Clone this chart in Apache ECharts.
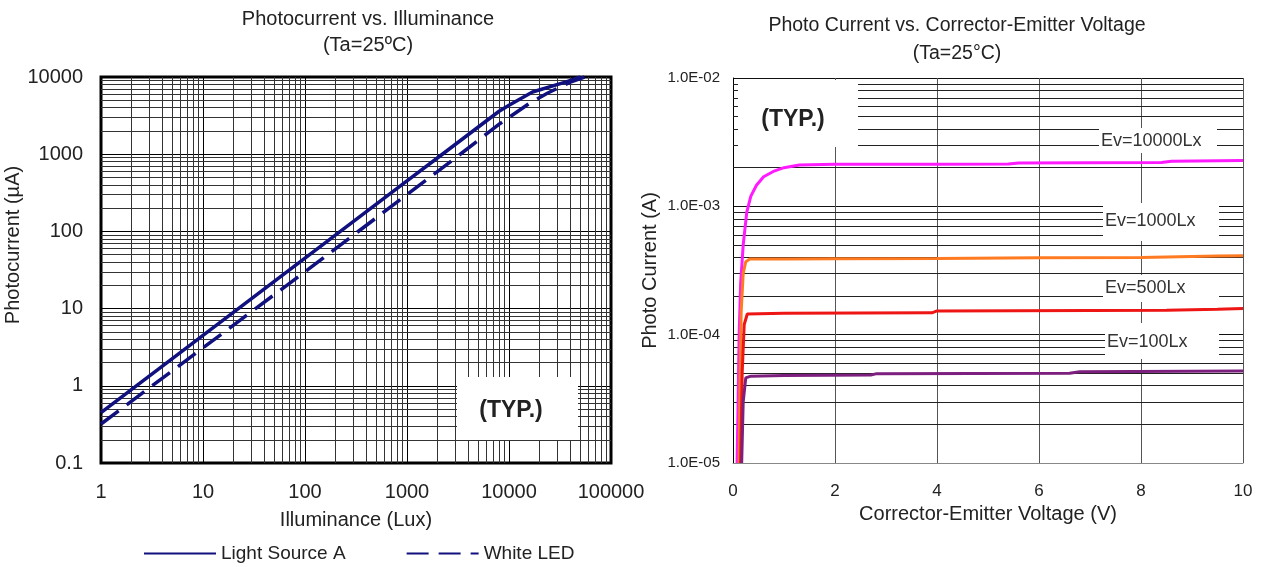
<!DOCTYPE html>
<html>
<head>
<meta charset="utf-8">
<script src="https://cdn.jsdelivr.net/npm/echarts@6.0.0/dist/echarts.min.js"></script>
<style>
html,body{margin:0;padding:0;background:#fff;}
#chart{width:1263px;height:567px;}
</style>
</head>
<body>
<div id="chart"></div>
<script>
// ---------- Left chart data: Photocurrent (µA) vs Illuminance (Lux) ----------
const luxA = [1, 10, 100, 1000, 2000, 5000, 8000, 10000, 17000, 37000, 50000];
const lightSourceA = [0.45, 4.5, 45, 450, 900, 2250, 3600, 4300, 6400, 8700, 10000];
const luxLED = [1, 10, 100, 1000, 3000, 8200, 16000, 24000, 40000, 55000];
const whiteLED = [0.32, 3.1, 30, 300, 900, 2500, 4600, 6200, 8600, 10000];
const leftXTickLabels = ['1', '10', '100', '1000', '10000', '100000'];
const leftYTickLabels = ['0.1', '1', '10', '100', '1000', '10000'];
const leftXDecades = [1, 10, 100, 1000, 10000];
const leftYDecades = [0.1, 1, 10, 100, 1000];
const minorSteps = [2, 3, 4, 5, 6, 7, 8, 9];

// ---------- Right chart data: Photo current (A) vs C-E Voltage (V) ----------
const ev10000V = [0.08, 0.1, 0.12, 0.15, 0.2, 0.27, 0.35, 0.46, 0.6, 0.79, 1.0, 1.3, 2, 4, 5.4, 5.6, 8.4, 8.6, 10];
const ev10000I = [1e-5, 3e-5, 1e-4, 2.5e-4, 5e-4, 9e-4, 1.2e-3, 1.46e-3, 1.7e-3, 1.87e-3, 2.0e-3, 2.1e-3, 2.13e-3, 2.13e-3, 2.14e-3, 2.18e-3, 2.2e-3, 2.25e-3, 2.28e-3];
const ev1000V = [0.12, 0.14, 0.16, 0.2, 0.25, 0.33, 1, 2, 4, 6, 8, 9.5, 10];
const ev1000I = [1e-5, 5e-5, 1.5e-4, 3e-4, 3.7e-4, 3.88e-4, 3.88e-4, 3.9e-4, 3.92e-4, 3.97e-4, 4.0e-4, 4.1e-4, 4.12e-4];
const ev500V = [0.15, 0.18, 0.22, 0.28, 1, 3.9, 4.0, 8.5, 9.5, 10];
const ev500I = [1e-5, 5e-5, 1.2e-4, 1.45e-4, 1.47e-4, 1.48e-4, 1.53e-4, 1.55e-4, 1.58e-4, 1.6e-4];
const ev100V = [0.17, 0.2, 0.25, 0.35, 1, 2.7, 2.8, 6.6, 6.8, 10];
const ev100I = [1e-5, 3e-5, 4.6e-5, 4.75e-5, 4.8e-5, 4.85e-5, 4.95e-5, 5.0e-5, 5.15e-5, 5.2e-5];
const rightYTickLabels = ['1.0E-05', '1.0E-04', '1.0E-03', '1.0E-02'];
const rightYDecades = [1e-5, 1e-4, 1e-3];

const zip = (a, b) => a.map((v, i) => [v, b[i]]);
const minorOf = decades => decades.flatMap(d => minorSteps.map(s => +(d * s).toPrecision(6)));

const FONT = "'Liberation Sans', Arial, sans-serif";
const TXT = '#222';
const NAVY = '#10107f';
const NOSYM = 'rgba(0,0,0,0)';

const chart = echarts.init(document.getElementById('chart'), null, {renderer: 'canvas'});

const option = {
  animation: false,
  backgroundColor: '#ffffff',
  textStyle: {fontFamily: FONT, color: TXT},
  title: [
    {text: 'Photocurrent vs. Illuminance\n(Ta=25ºC)', left: 368, top: 6, textAlign: 'center', padding: 0,
     textStyle: {fontSize: 20, fontWeight: 'normal', lineHeight: 26, color: TXT, fontFamily: FONT}},
    {text: 'Photo Current vs. Corrector-Emitter Voltage\n(Ta=25°C)', left: 957, top: 12, textAlign: 'center', padding: 0,
     textStyle: {fontSize: 19.5, fontWeight: 'normal', lineHeight: 28, color: TXT, fontFamily: FONT}}
  ],
  legend: {
    left: 138, top: 539, itemWidth: 72, itemHeight: 14, itemGap: 60,
    selectedMode: false, data: ['Light Source A', 'White LED'],
    itemStyle: {opacity: 0},
    textStyle: {fontSize: 19, color: TXT, fontFamily: FONT}
  },
  grid: [
    {left: 101, top: 77, width: 510, height: 386, show: true, borderColor: '#000', borderWidth: 3,
     backgroundColor: 'transparent', outerBoundsMode: 'none', containLabel: false},
    {left: 733, top: 78, width: 510, height: 385, show: false, outerBoundsMode: 'none', containLabel: false}
  ],
  xAxis: [
    {type: 'log', logBase: 10, gridIndex: 0, min: 1, max: 100000,
     axisLine: {show: false}, axisTick: {show: false},
     axisLabel: {fontSize: 20, color: TXT, margin: 19, fontFamily: FONT,
       formatter: v => leftXTickLabels[Math.round(Math.log10(v))]},
     splitLine: {show: true, lineStyle: {color: '#000', width: 1}},
     name: 'Illuminance (Lux)', nameLocation: 'middle', nameGap: 47,
     nameTextStyle: {fontSize: 20, color: TXT, fontFamily: FONT}},
    {type: 'value', gridIndex: 1, min: 0, max: 10, interval: 2,
     axisLine: {show: true, lineStyle: {color: '#888', width: 1}}, axisTick: {show: false},
     axisLabel: {fontSize: 17, color: TXT, margin: 20, fontFamily: FONT},
     splitLine: {show: true, lineStyle: {color: '#555', width: 1}},
     name: 'Corrector-Emitter Voltage (V)', nameLocation: 'middle', nameGap: 39,
     nameTextStyle: {fontSize: 20, color: TXT, fontFamily: FONT}}
  ],
  yAxis: [
    {type: 'log', logBase: 10, gridIndex: 0, min: 0.1, max: 10000,
     axisLine: {show: false}, axisTick: {show: false},
     axisLabel: {fontSize: 20, color: TXT, margin: 18, fontFamily: FONT,
       formatter: v => leftYTickLabels[Math.round(Math.log10(v)) + 1]},
     splitLine: {show: true, lineStyle: {color: '#000', width: 1}},
     name: 'Photocurrent (µA)', nameLocation: 'middle', nameGap: 64, nameRotate: 90,
     nameTextStyle: {fontSize: 20, color: TXT, fontFamily: FONT, padding: [0, 0, 0, 50]}},
    {type: 'log', logBase: 10, gridIndex: 1, min: 1e-5, max: 1e-2,
     axisLine: {show: true, lineStyle: {color: '#000', width: 1}}, axisTick: {show: false},
     axisLabel: {fontSize: 15, color: TXT, margin: 13, fontFamily: FONT,
       formatter: v => rightYTickLabels[Math.round(Math.log10(v)) + 5]},
     splitLine: {show: true, lineStyle: {color: '#111', width: 1}},
     name: 'Photo Current (A)', nameLocation: 'middle', nameGap: 73, nameRotate: 90,
     nameTextStyle: {fontSize: 20, color: TXT, fontFamily: FONT}}
  ],
  series: [
    {type: 'line', xAxisIndex: 0, yAxisIndex: 0, data: [], silent: true, z: 1,
     markLine: {symbol: 'none', silent: true, animation: false, precision: 10, label: {show: false},
       lineStyle: {color: '#333', width: 1, type: 'solid'}, emphasis: {disabled: true},
       data: minorOf(leftXDecades).map(v => ({xAxis: v})).concat(minorOf(leftYDecades).map(v => ({yAxis: v})))}},
    {type: 'line', xAxisIndex: 1, yAxisIndex: 1, data: [], silent: true, z: 1,
     markLine: {symbol: 'none', silent: true, animation: false, precision: 12, label: {show: false},
       lineStyle: {color: '#222', width: 1, type: 'solid'}, emphasis: {disabled: true},
       data: minorOf(rightYDecades).map(v => ({yAxis: v}))}},
    {name: 'Light Source A', type: 'line', xAxisIndex: 0, yAxisIndex: 0, data: zip(luxA, lightSourceA),
     symbol: 'none', z: 5, lineStyle: {color: NAVY, width: 3.5}, itemStyle: {color: NOSYM}},
    {name: 'White LED', type: 'line', xAxisIndex: 0, yAxisIndex: 0, data: zip(luxLED, whiteLED),
     symbol: 'none', z: 5, lineStyle: {color: NAVY, width: 3.5, type: [22, 10]}, itemStyle: {color: NOSYM}},
    {name: 'Ev=10000Lx', type: 'line', xAxisIndex: 1, yAxisIndex: 1, data: zip(ev10000V, ev10000I),
     symbol: 'none', z: 5, lineStyle: {color: '#ff1aff', width: 3}},
    {name: 'Ev=1000Lx', type: 'line', xAxisIndex: 1, yAxisIndex: 1, data: zip(ev1000V, ev1000I),
     symbol: 'none', z: 5, lineStyle: {color: '#ff7a20', width: 3}},
    {name: 'Ev=500Lx', type: 'line', xAxisIndex: 1, yAxisIndex: 1, data: zip(ev500V, ev500I),
     symbol: 'none', z: 5, lineStyle: {color: '#ee1515', width: 3}},
    {name: 'Ev=100Lx', type: 'line', xAxisIndex: 1, yAxisIndex: 1, data: zip(ev100V, ev100I),
     symbol: 'none', z: 5, lineStyle: {color: '#7c1f7e', width: 3}}
  ],
  graphic: [
    {type: 'rect', z: 10, silent: true, shape: {x: 457, y: 377, width: 121, height: 63}, style: {fill: '#fff'}},
    {type: 'text', z: 11, silent: true, x: 511, y: 411,
     style: {text: '(TYP.)', fontSize: 23, fontWeight: 'bold', fontFamily: FONT, fill: TXT, align: 'center', verticalAlign: 'middle'}},
    {type: 'rect', z: 10, silent: true, shape: {x: 738, y: 80, width: 120, height: 67}, style: {fill: '#fff'}},
    {type: 'text', z: 11, silent: true, x: 793, y: 120,
     style: {text: '(TYP.)', fontSize: 23, fontWeight: 'bold', fontFamily: FONT, fill: TXT, align: 'center', verticalAlign: 'middle'}},
    {type: 'rect', z: 10, silent: true, shape: {x: 1099, y: 128, width: 118, height: 25}, style: {fill: '#fff'}},
    {type: 'text', z: 11, silent: true, x: 1101, y: 141,
     style: {text: 'Ev=10000Lx', fontSize: 18, fontFamily: FONT, fill: '#333', align: 'left', verticalAlign: 'middle'}},
    {type: 'rect', z: 10, silent: true, shape: {x: 1103, y: 203, width: 116, height: 38}, style: {fill: '#fff'}},
    {type: 'text', z: 11, silent: true, x: 1105, y: 221,
     style: {text: 'Ev=1000Lx', fontSize: 18, fontFamily: FONT, fill: '#333', align: 'left', verticalAlign: 'middle'}},
    {type: 'rect', z: 10, silent: true, shape: {x: 1103, y: 275, width: 116, height: 27}, style: {fill: '#fff'}},
    {type: 'text', z: 11, silent: true, x: 1105, y: 288,
     style: {text: 'Ev=500Lx', fontSize: 18, fontFamily: FONT, fill: '#333', align: 'left', verticalAlign: 'middle'}},
    {type: 'rect', z: 10, silent: true, shape: {x: 1105, y: 323, width: 114, height: 36}, style: {fill: '#fff'}},
    {type: 'text', z: 11, silent: true, x: 1107, y: 342,
     style: {text: 'Ev=100Lx', fontSize: 18, fontFamily: FONT, fill: '#333', align: 'left', verticalAlign: 'middle'}}
  ]
};
chart.setOption(option);
</script>
</body>
</html>
